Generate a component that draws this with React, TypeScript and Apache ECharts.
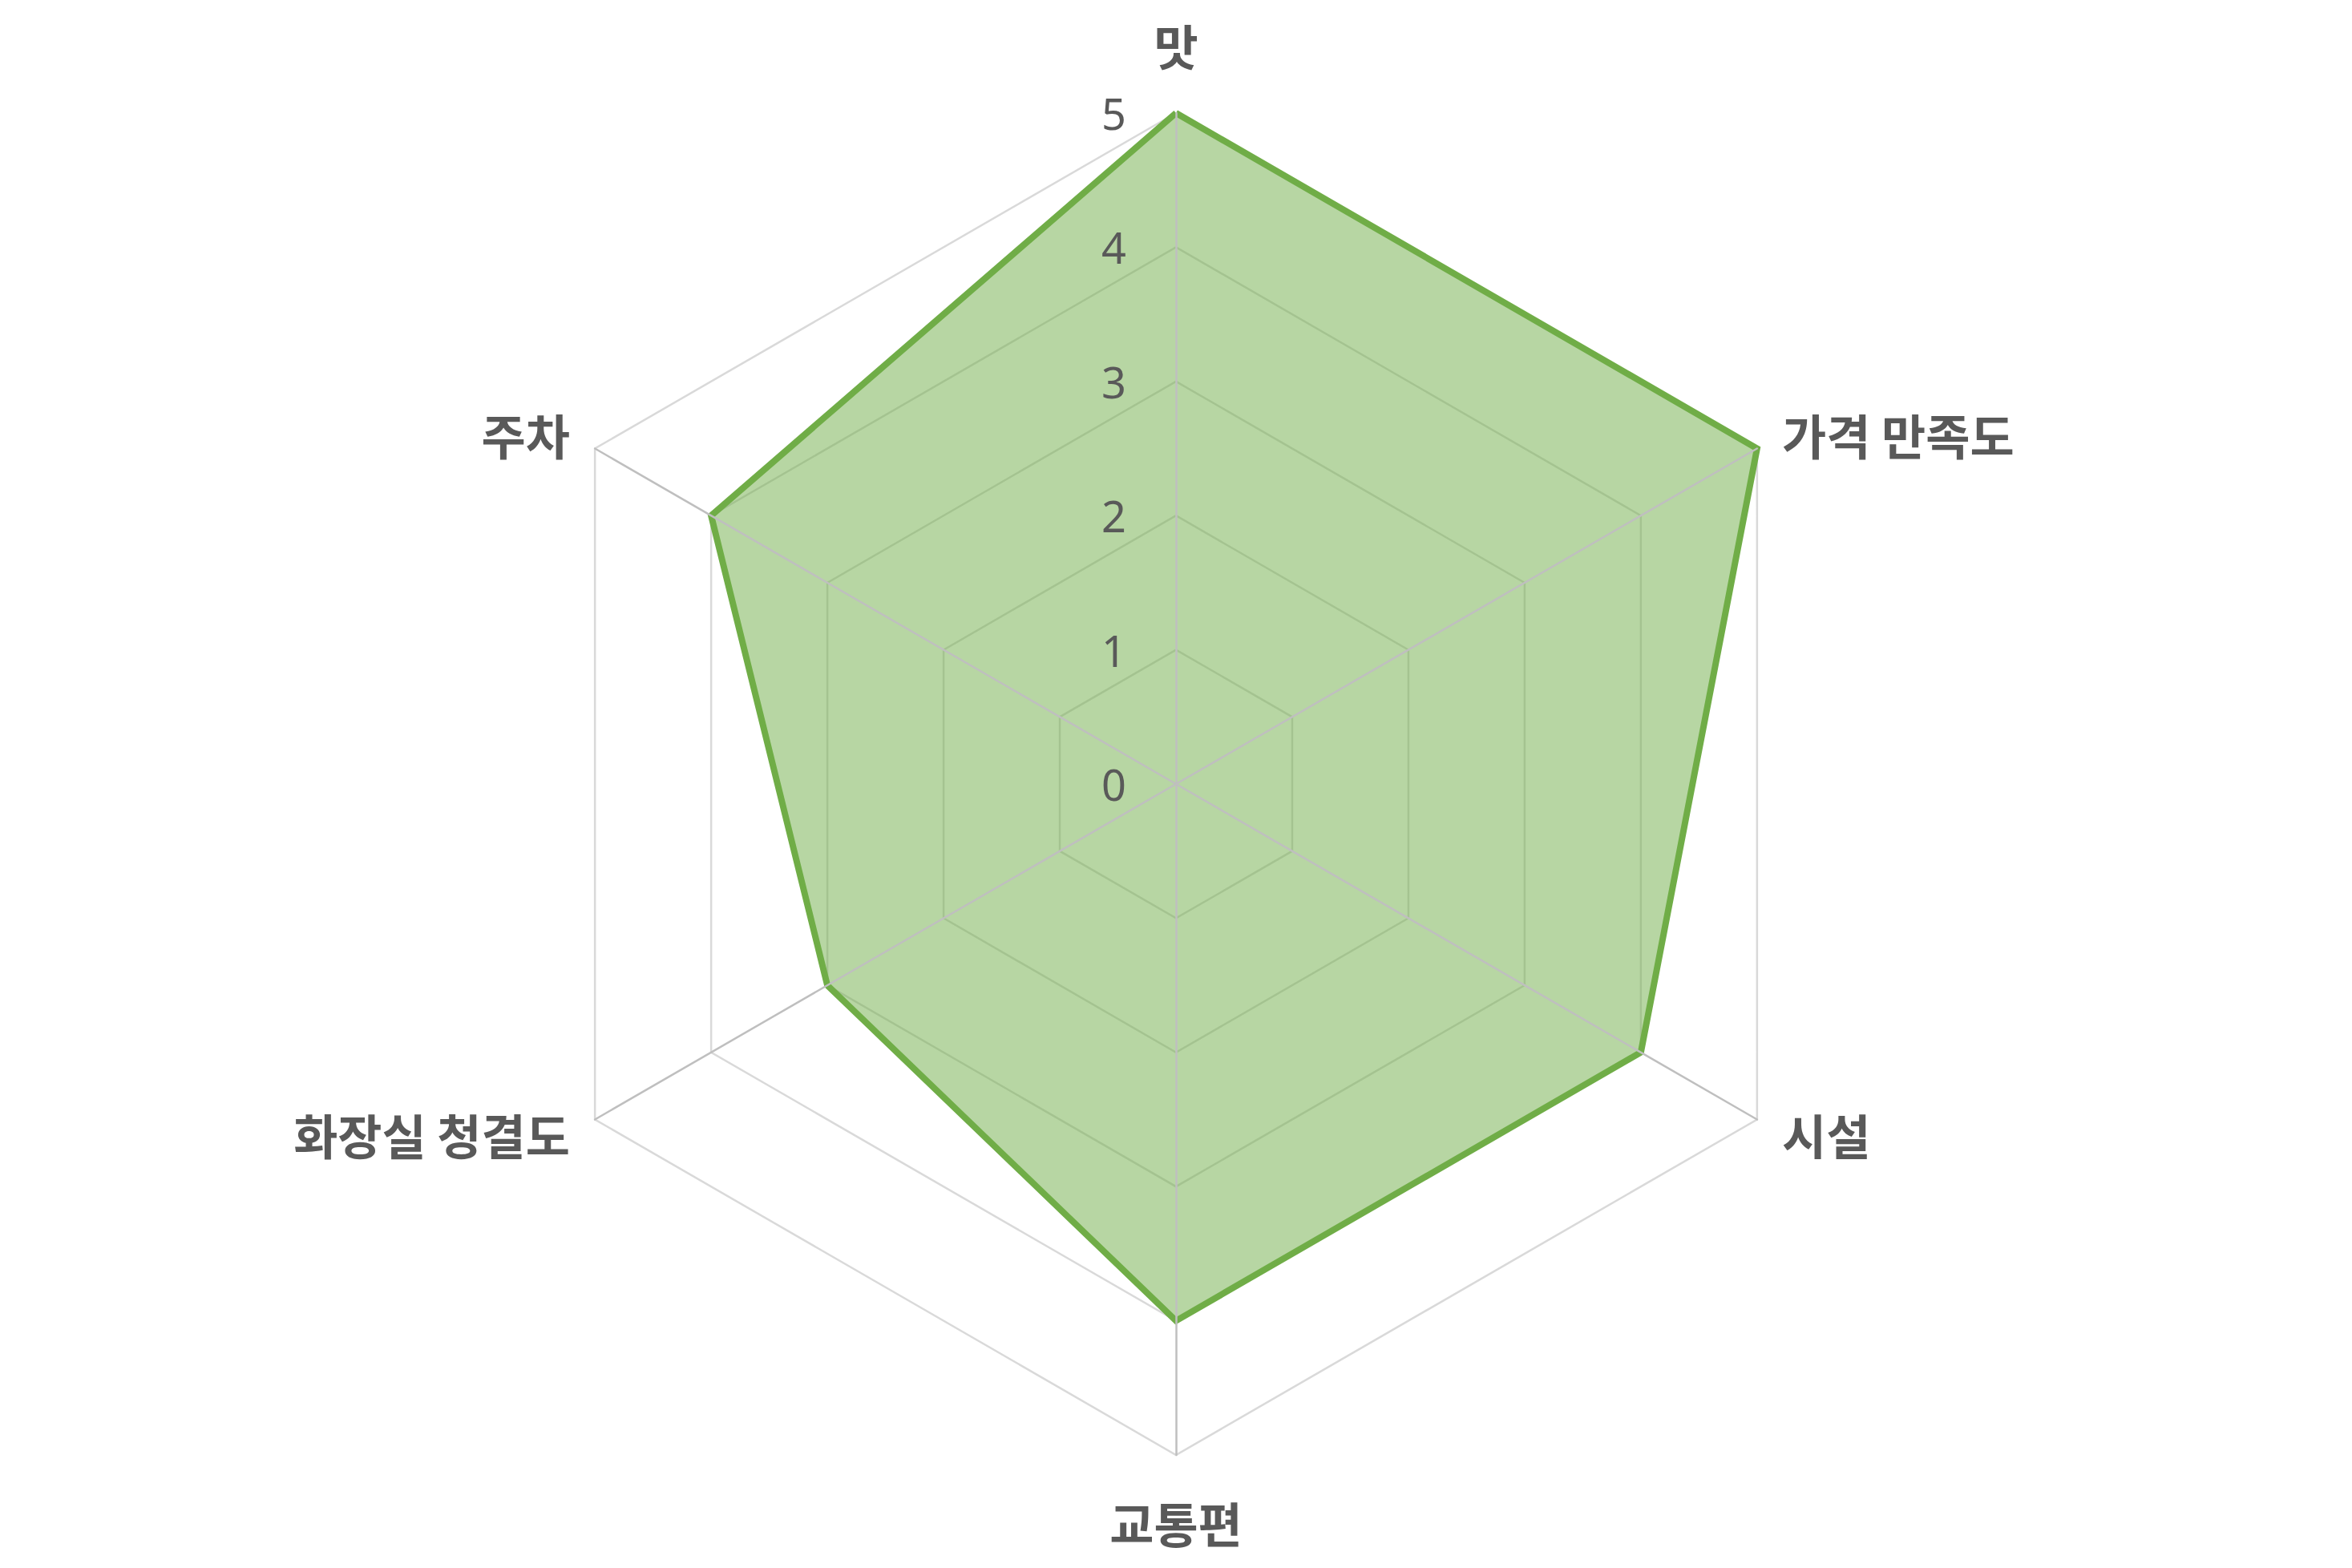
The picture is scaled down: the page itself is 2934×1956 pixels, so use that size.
import React, { useEffect, useRef } from "react";
import * as echarts from "echarts";

const indicatorNames = ["맛", "가격 만족도", "시설", "교통편", "화장실 청결도", "주차"];
const scores = [5, 5, 4, 4, 3, 4];
const maxScore = 5;
const nameGaps = [56, 36, 36, 53, 36, 36];

// ECharts radar runs counter-clockwise; keep the first axis and reverse the rest
function clockwise<T>(arr: T[]): T[] {
  return [arr[0], ...arr.slice(1).reverse()];
}

export default function App() {
  const ref = useRef<HTMLDivElement>(null);
  useEffect(() => {
    if (!ref.current) return;
    const chart = echarts.init(ref.current, null, { renderer: "svg" });
    const center = [1467, 978];
    const radius = 837;
    const names = clockwise(indicatorNames);
    const gaps = clockwise(nameGaps);
    const vals = clockwise(scores);
    const baseIndicators = names.map((n) => ({ name: n, min: 0, max: maxScore }));
    const topIndicators = names.map((n, i) => {
      const o: any = { name: n, min: 0, max: maxScore, nameGap: gaps[i] };
      if (i === 0) {
        o.axisLabel = {
          show: true,
          margin: 62,
          color: "#595959",
          fontSize: 54,
          fontFamily: "Noto Sans",
          fontWeight: 400,
        };
      }
      return o;
    });
    chart.setOption({
      animation: false,
      backgroundColor: "#ffffff",
      radar: [
        {
          center,
          radius,
          startAngle: 90,
          shape: "polygon",
          splitNumber: 5,
          indicator: baseIndicators,
          axisName: { show: false },
          axisLine: { show: false },
          axisTick: { show: false },
          axisLabel: { show: false },
          splitArea: { show: false },
          splitLine: { show: true, lineStyle: { color: "#d9d9d9", width: 2.5 } },
          z: 1,
        },
        {
          center,
          radius,
          startAngle: 90,
          shape: "polygon",
          splitNumber: 5,
          indicator: topIndicators,
          axisName: {
            show: true,
            color: "#595959",
            fontSize: 60,
            fontWeight: "bold",
            fontFamily: "Noto Sans CJK KR",
          },
          axisLine: { show: true, lineStyle: { color: "#bfbfbf", width: 2.5 } },
          axisTick: { show: false },
          axisLabel: { show: false },
          splitArea: { show: false },
          splitLine: { show: false },
          z: 5,
        },
      ],
      series: [
        {
          type: "radar",
          radarIndex: 0,
          z: 3,
          symbol: "none",
          lineStyle: { color: "#70ad47", width: 8, join: "miter" },
          areaStyle: { color: "#70ad47", opacity: 0.5 },
          data: [{ value: vals, name: "점수" }],
        },
      ],
    });
    return () => chart.dispose();
  }, []);
  return (
    <div
      ref={ref}
      style={{ position: "absolute", left: 0, top: 0, width: 2934, height: 1956 }}
    />
  );
}
